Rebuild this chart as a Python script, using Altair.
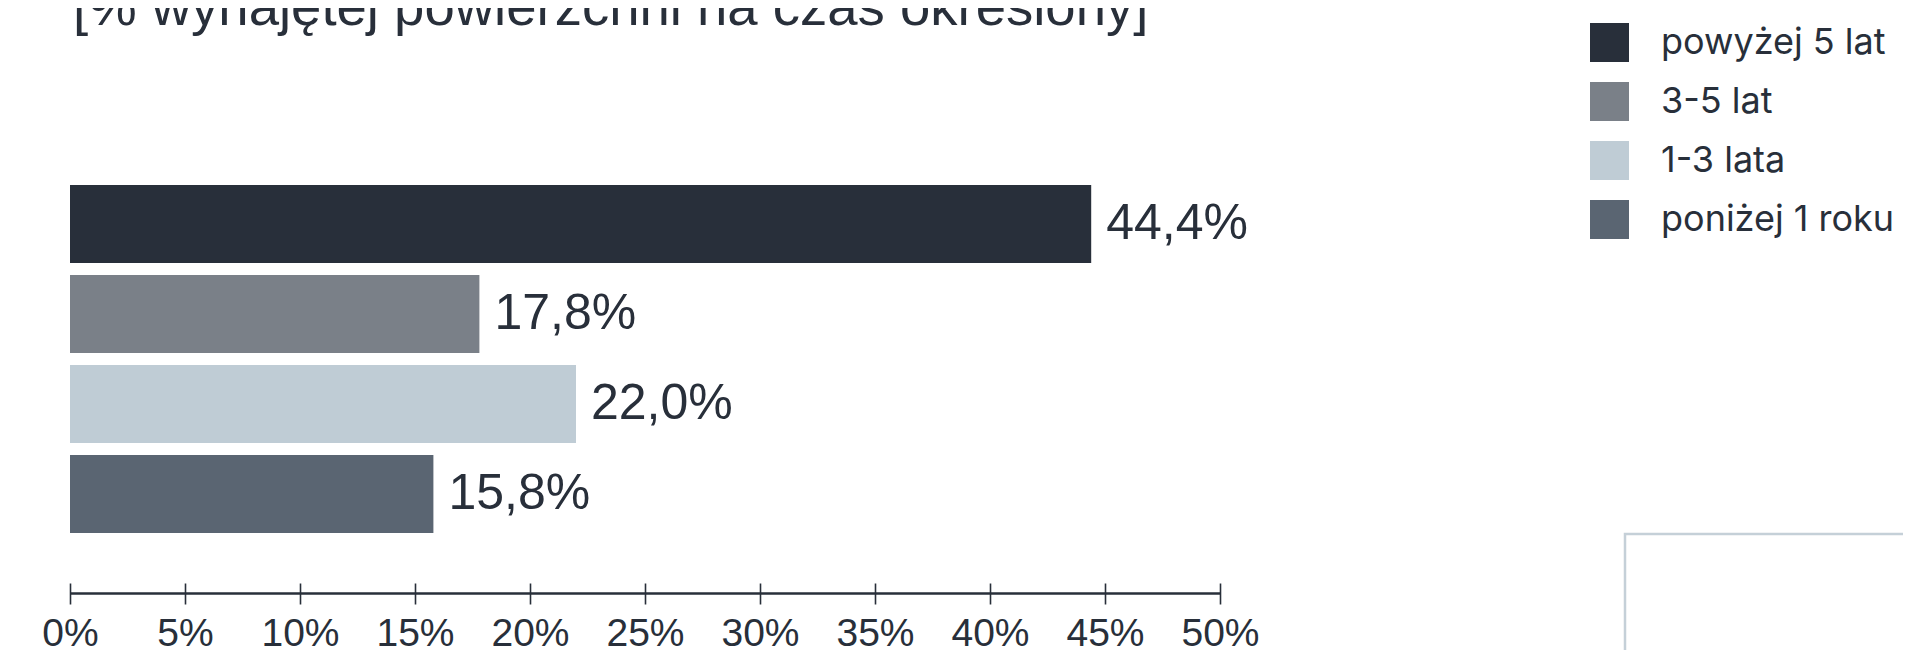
import altair as alt
import pandas as pd

# ---- data ----
title_text = "[% wynajętej powierzchni na czas określony]"
categories = ["powyżej 5 lat", "3-5 lat", "1-3 lata", "poniżej 1 roku"]
values = [44.4, 17.8, 22.0, 15.8]
colors = ["#282f3a", "#7a8088", "#bfccd5", "#5a6572"]
tick_values = [0, 5, 10, 15, 20, 25, 30, 35, 40, 45, 50]

ink = "#282f3a"

df = pd.DataFrame({
    "kategoria": categories,
    "wartosc": values,
    "etykieta": [f"{v:.1f}".replace(".", ",") + "%" for v in values],
})

x_scale = alt.Scale(domain=[tick_values[0], tick_values[-1]], nice=False, zero=True)
y_enc = alt.Y("kategoria:N", sort=categories, axis=None,
              scale=alt.Scale(paddingInner=0.133, paddingOuter=0.067))

bars = alt.Chart(df).mark_bar().encode(
    x=alt.X("wartosc:Q", scale=x_scale,
            axis=alt.Axis(values=tick_values, labelExpr="datum.value + '%'",
                          domain=False, offset=44, tickSize=21, tickWidth=1.6,
                          tickColor=ink, labelFontSize=39, labelFont="Liberation Sans",
                          labelColor=ink, labelPadding=10, labelOverlap=False,
                          labelFlush=False, grid=False, title=None)),
    y=y_enc,
    color=alt.Color("kategoria:N",
                    scale=alt.Scale(domain=categories, range=colors),
                    legend=alt.Legend(orient="none", legendX=1520, legendY=-156,
                                      title=None, symbolType="square", symbolSize=1521,
                                      symbolStrokeWidth=0, symbolOpacity=1,
                                      labelFontSize=36, labelFont="Inter",
                                      labelColor=ink, labelOffset=32, rowPadding=20,
                                      padding=0, labelLimit=500)),
)

labels = alt.Chart(df).mark_text(
    align="left", baseline="middle", dx=15, fontSize=50,
    font="Liberation Sans", color=ink,
).encode(
    x=alt.X("wartosc:Q", scale=x_scale),
    y=y_enc,
    text="etykieta:N",
)

domain_df = pd.DataFrame({"a": [tick_values[0]], "b": [tick_values[-1]]})
domain_rule = alt.Chart(domain_df).mark_rule(color=ink, strokeWidth=2.5).encode(
    x=alt.X("a:Q", scale=x_scale),
    x2="b:Q",
    y=alt.value(414.5),
)

title_layer = alt.Chart(pd.DataFrame({"t": [title_text]})).mark_text(
    align="left", baseline="alphabetic", fontSize=54.5,
    font="Liberation Sans", color=ink,
).encode(text="t:N", x=alt.value(3), y=alt.value(-154))

box = alt.Chart(pd.DataFrame({"d": [0]})).mark_rect(
    fillOpacity=0, stroke="#c5d0d8", strokeWidth=2.5,
).encode(x=alt.value(1555), x2=alt.value(1950), y=alt.value(355), y2=alt.value(700))

chart = alt.layer(box, bars, labels, domain_rule, title_layer).properties(
    width=1150,
    height=360,
    autosize=alt.AutoSizeParams(type="none"),
    padding={"left": 62, "top": 171, "right": 683, "bottom": 111},
).configure_view(strokeWidth=0)

chart.save("out.html", embed_options={"renderer": "svg", "actions": False})
